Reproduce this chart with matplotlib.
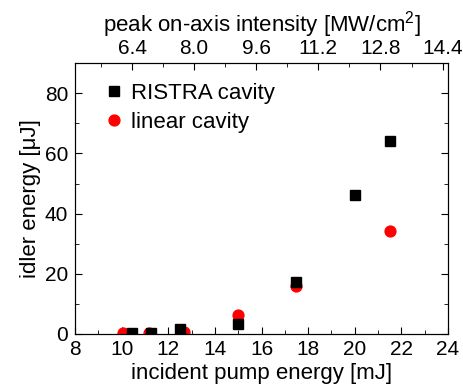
import matplotlib
matplotlib.use("Agg")
import matplotlib.pyplot as plt
from matplotlib.ticker import MultipleLocator

plt.rcParams['font.family'] = ['Liberation Sans', 'DejaVu Sans']
plt.rcParams['mathtext.fontset'] = 'custom'
plt.rcParams['mathtext.rm'] = 'Liberation Sans'
plt.rcParams['font.size'] = 15

# Daten
ristra_x = [10.45, 11.25, 12.5, 15.0, 17.5, 20.0, 21.5]
ristra_y = [0.2, 0.4, 1.6, 3.4, 17.4, 46.3, 64.2]
linear_x = [10.07, 11.19, 12.68, 15.0, 17.5, 21.5]
linear_y = [0.2, 0.4, 0.6, 6.2, 15.8, 34.1]

fig = plt.figure(figsize=(4.63, 3.9), dpi=100)
ax = fig.add_axes([0.162, 0.1436, 0.8056, 0.6944])

ax.plot(ristra_x, ristra_y, 's', color='black', markersize=7.4, label='RISTRA cavity', zorder=3)
ax.plot(linear_x, linear_y, 'o', color='red', markersize=7.8, label='linear cavity', zorder=2)

ax.set_xlim(8, 24)
ax.set_ylim(0, 90)
ax.xaxis.set_major_locator(MultipleLocator(2))
ax.xaxis.set_minor_locator(MultipleLocator(1))
ax.yaxis.set_major_locator(MultipleLocator(20))
ax.yaxis.set_minor_locator(MultipleLocator(10))
ax.tick_params(which='both', direction='in', right=True, top=False, labelsize=15)
ax.tick_params(axis='x', pad=4)
ax.tick_params(axis='y', pad=5)
ax.tick_params(which='major', length=5)
ax.tick_params(which='minor', length=3)
ax.set_xlabel('incident pump energy [mJ]', fontsize=16, labelpad=3)
ax.set_ylabel('idler energy [μJ]', fontsize=16, labelpad=3)

ax2 = ax.twiny()
ax2.set_xlim(4.93, 14.54)
ax2.xaxis.set_minor_locator(MultipleLocator(0.8))
ax2.set_xticks([6.4, 8.0, 9.6, 11.2, 12.8, 14.4])
ax2.set_xticklabels(['6.4', '8.0', '9.6', '11.2', '12.8', '14.4'])
ax2.tick_params(which='both', direction='in', labelsize=15, pad=4)
ax2.tick_params(which='major', length=5)
ax2.tick_params(which='minor', length=3)
ax2.set_xlabel('peak on-axis intensity [MW/cm$^2$]', fontsize=16, labelpad=5)

ax.legend(loc='upper left', frameon=False, fontsize=16, handletextpad=0.3,
          borderaxespad=0.0, bbox_to_anchor=(0.05, 0.96), labelspacing=0.35,
          handlelength=1.0)

fig.savefig('out.png', dpi=100)
